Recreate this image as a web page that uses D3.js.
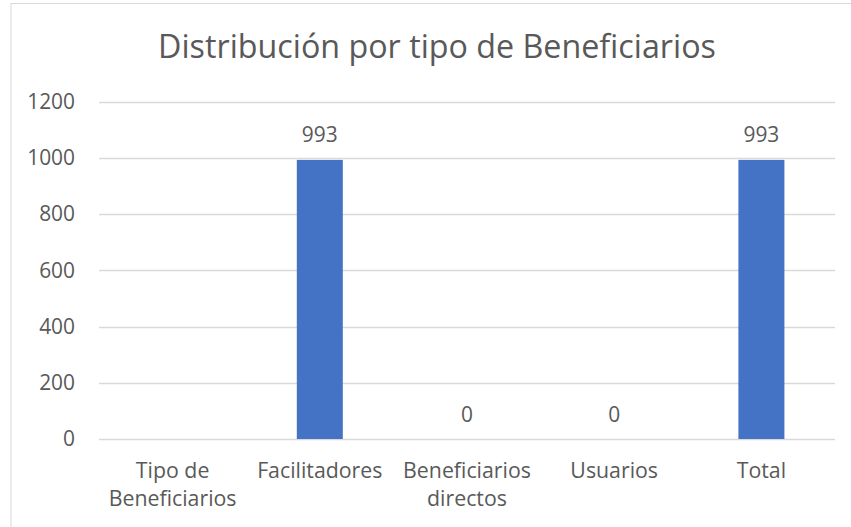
<!DOCTYPE html>
<html>
<head>
<meta charset="utf-8">
<script src="https://cdn.jsdelivr.net/npm/d3@7"></script>
<style>
  html, body { margin: 0; padding: 0; background: #ffffff; }
  svg { display: block; }
  text { font-family: "Open Sans", "Noto Sans", sans-serif; fill: #595959; }
</style>
</head>
<body>
<svg id="chart" width="851" height="527"></svg>
<script>
const title = "Distribución por tipo de Beneficiarios";
const categories = ["Tipo de Beneficiarios", "Facilitadores", "Beneficiarios directos", "Usuarios", "Total"];
const values = [null, 993, 0, 0, 993];
const yTicks = [0, 200, 400, 600, 800, 1000, 1200];

const W = 851, H = 527;
const margin = { left: 99, right: 16, top: 101.7, bottom: 88 };
const svg = d3.select("#chart");

// chart area border (only top and left visible in the reference)
svg.append("rect").attr("x", 11).attr("y", 3.5).attr("width", W + 10).attr("height", H + 10)
  .attr("fill", "none").attr("stroke", "#d9d9d9").attr("stroke-width", 1);

const x = d3.scaleBand().domain(categories)
  .range([margin.left, W - margin.right])
  .paddingInner(0.6875).paddingOuter(0.34375);
const y = d3.scaleLinear().domain([0, 1200]).range([439, margin.top]);

function fitSize(text, target, base) {
  const t = svg.append("text").attr("font-size", base).text(text);
  const len = t.node().getComputedTextLength();
  t.remove();
  return base * target / len;
}
const tickSize = fitSize("1200", 46, 20) * 1.04;
const catSize = fitSize("Beneficiarios", 123, 20) * 1.04;
const titleSize = fitSize(title, 558, 30);

// gridlines
const grid = svg.append("g");
grid.selectAll("line").data(yTicks).join("line")
  .attr("x1", margin.left).attr("x2", W - margin.right)
  .attr("y1", d => Math.round(y(d)) + 0.5).attr("y2", d => Math.round(y(d)) + 0.5)
  .attr("stroke", "#d9d9d9").attr("stroke-width", 1.3);

// y axis labels
const yAxis = d3.axisLeft(y).tickValues(yTicks).tickSize(0).tickPadding(24).tickFormat(d3.format("d"));
const ya = svg.append("g").attr("transform", `translate(${margin.left},0)`).call(yAxis);
ya.select(".domain").remove();
ya.selectAll("text").attr("font-size", tickSize).attr("fill", "#595959")
  .attr("font-family", '"Open Sans", sans-serif');

// bars
svg.append("g").selectAll("rect")
  .data(categories.map((c, i) => ({ c, v: values[i] })).filter(d => d.v !== null && d.v > 0))
  .join("rect")
  .attr("x", d => x(d.c)).attr("width", x.bandwidth())
  .attr("y", d => y(d.v)).attr("height", d => y(0) - y(d.v))
  .attr("fill", "#4472C4");

// data labels
svg.append("g").selectAll("text")
  .data(categories.map((c, i) => ({ c, v: values[i] })).filter(d => d.v !== null))
  .join("text")
  .attr("x", d => x(d.c) + x.bandwidth() / 2)
  .attr("y", d => y(d.v) - 17.5)
  .attr("text-anchor", "middle").attr("font-size", tickSize)
  .text(d => d.v);

// category labels (wrap at last space)
const xAxis = d3.axisBottom(x).tickSize(0).tickFormat("");
const xa = svg.append("g").attr("transform", `translate(0,${y(0)})`).call(xAxis);
xa.select(".domain").remove();
categories.forEach(c => {
  const idx = c.lastIndexOf(" ");
  const lines = idx > 0 ? [c.slice(0, idx), c.slice(idx + 1)] : [c];
  const t = svg.append("text").attr("text-anchor", "middle").attr("font-size", catSize)
    .attr("x", x(c) + x.bandwidth() / 2).attr("y", 478);
  lines.forEach((l, i) => t.append("tspan").attr("x", x(c) + x.bandwidth() / 2)
    .attr("dy", i === 0 ? 0 : 28).text(l));
});

// title
svg.append("text").attr("x", 437).attr("y", 58).attr("text-anchor", "middle")
  .attr("font-size", titleSize).text(title);
</script>
</body>
</html>
